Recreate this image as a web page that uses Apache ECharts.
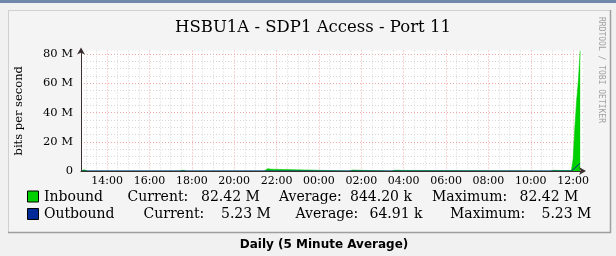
<!DOCTYPE html>
<html><head><meta charset="utf-8">
<script src="https://cdn.jsdelivr.net/npm/echarts@6/dist/echarts.min.js"></script>
<style>html,body{margin:0;padding:0;background:#f1f1f1;}#c{width:616px;height:256px;}</style>
</head><body><div id="c"></div>
<script>
// ---- data (values in Mbit/s) ----
const titleText = 'HSBU1A - SDP1 Access - Port 11';
const axisStart = '12:46';
const axisEnd = '12:28';
const inTimes = ['12:46','12:50','12:55','13:00','13:05','17:25','17:30','17:35','17:40','17:45','21:25','21:30','21:35','21:40','21:45','21:50','01:25','01:30','01:35','01:40','03:25','03:30','03:35','03:40','03:45','03:50','03:55','04:00','10:55','11:00','11:05','11:10','11:15','11:20','11:55','12:00','12:05','12:10','12:15','12:20'];
const inValues = [0.2,0.6,0.8,0.3,0,0,0.3,0.5,0.4,0,0,0.8,1.6,2.2,1.2,0,0,0.3,0.6,0,0,0.4,0.5,0.6,0.5,0.5,0.4,0,0,0.3,0.5,0.5,0.4,0,0.3,8,30,48,62,82.42];
const outTimes = ['12:46','11:55','12:00','12:05','12:10','12:15','12:20'];
const outValues = [0,0,0.8,2.0,3.2,4.3,5.23];
const legendNames = ['Inbound','Outbound'];
const legendColors = ['#00cf00','#002a97'];
const currentVals = ['82.42 M','5.23 M'];
const averageVals = ['844.20 k','64.91 k'];
const maximumVals = ['82.42 M','5.23 M'];
const yMax = 82.42;
const yAxisName = 'bits per second';
const caption = 'Daily (5 Minute Average)';
const sideText = 'RRDTOOL / TOBI OETIKER';

function toH(s){const p=s.split(':').map(Number);let v=p[0]+p[1]/60;if(v<12.7)v+=24;return v;}
function pad(n){return (n<10?'0':'')+n;}

const serif = 'DejaVu Serif';
const chart = echarts.init(document.getElementById('c'), null, {renderer:'canvas'});

const legendGraphics = [];
const rowY = [197, 214.5];
const colX = [
  [44, 127.5, 201, 279, 350, 432, 519.5],
  [44, 143.5, 221, 295.5, 369.5, 450, 541.5]
];
for (let i = 0; i < 2; i++) {
  legendGraphics.push({type:'rect', shape:{x:27.5,y:rowY[i]-6,width:11,height:11}, style:{fill:legendColors[i], stroke:'#000', lineWidth:1}});
  const parts = [legendNames[i], 'Current:', currentVals[i], 'Average:', averageVals[i], 'Maximum:', maximumVals[i]];
  parts.forEach((t, j) => {
    legendGraphics.push({type:'text', x:colX[i][j], y:rowY[i], style:{text:t, font:'14px "'+serif+'"', fill:'#000', verticalAlign:'middle'}});
  });
}

const axisLineStyle = {show:true, onZero:true, lineStyle:{color:'#3a2f2f', width:1}, symbol:['none','arrow'], symbolSize:[6,7], symbolOffset:[0,3]};
const xMin = toH(axisStart), xMax = toH(axisEnd);

chart.setOption({
  animation:false,
  backgroundColor:'#f1f1f1',
  title:{text:titleText, left:308, top:14, textAlign:'center',
    textStyle:{fontFamily:serif, fontSize:16.5, fontWeight:'normal', color:'#000'}},
  grid:{left:81, top:50.5, width:502, height:120.5, show:true, backgroundColor:'#ffffff', borderWidth:0, outerBoundsMode:'none', containLabel:false},
  xAxis:[{type:'value', min:xMin, max:xMax, splitNumber:12,
    axisLine:{show:false},
    axisTick:{show:false},
    axisLabel:{showMinLabel:false, showMaxLabel:false, margin:5, fontFamily:serif, fontSize:11, color:'#000',
      formatter:v=>pad(Math.round(v)%24)+':00'},
    splitLine:{show:true, showMinLine:false, showMaxLine:false, lineStyle:{color:'#f0a8a8', type:[1,2], width:1}},
    minorTick:{show:false, splitNumber:4},
    minorSplitLine:{show:true, lineStyle:{color:'#d6d6d6', type:[1,2], width:1}}
  },{type:'value', min:xMin, max:xMax, position:'bottom', z:10,
    axisLine:axisLineStyle, axisTick:{show:false}, axisLabel:{show:false}, splitLine:{show:false}}],
  yAxis:[{type:'value', min:0, max:yMax, splitNumber:4,
    name:yAxisName, nameLocation:'middle', nameGap:56, nameRotate:90,
    nameTextStyle:{fontFamily:serif, fontSize:11.5, color:'#000'},
    axisLine:{show:false},
    axisTick:{show:false},
    axisLabel:{showMaxLabel:false, margin:8, fontFamily:serif, fontSize:11.5, color:'#000',
      formatter:v=>v===0?'0':v+' M'},
    splitLine:{show:true, showMinLine:false, showMaxLine:false, lineStyle:{color:'#f0a8a8', type:[1,2], width:1}},
    minorTick:{show:false, splitNumber:4},
    minorSplitLine:{show:true, lineStyle:{color:'#d6d6d6', type:[1,2], width:1}}
  },{type:'value', min:0, max:yMax, position:'left', z:10,
    axisLine:axisLineStyle, axisTick:{show:false}, axisLabel:{show:false}, splitLine:{show:false}}],
  series:[
    {type:'line', name:legendNames[0], data:inTimes.map((t,i)=>[toH(t), inValues[i]]),
      showSymbol:false, symbol:'none', lineStyle:{width:0.6, color:legendColors[0]},
      areaStyle:{color:legendColors[0], opacity:1}, z:3},
    {type:'line', name:legendNames[1], data:outTimes.map((t,i)=>[toH(t), outValues[i]]),
      showSymbol:false, symbol:'none', lineStyle:{width:1, color:legendColors[1]}, z:4}
  ],
  graphic:[
    {type:'rect', z:-5, shape:{x:0,y:0,width:616,height:3}, style:{fill:'#6f88aa'}},
    {type:'rect', z:-5, shape:{x:8,y:10,width:603,height:223}, style:{fill:'#f4f4f4', stroke:null}},
    {type:'line', z:-4, shape:{x1:8,y1:10.5,x2:611,y2:10.5}, style:{stroke:'#d0d0d0', lineWidth:1}},
    {type:'line', z:-4, shape:{x1:8.5,y1:10,x2:8.5,y2:233}, style:{stroke:'#d0d0d0', lineWidth:1}},
    {type:'line', z:-4, shape:{x1:8,y1:232.5,x2:611,y2:232.5}, style:{stroke:'#9e9e9e', lineWidth:1.5}},
    {type:'line', z:-4, shape:{x1:610.5,y1:10,x2:610.5,y2:233}, style:{stroke:'#9e9e9e', lineWidth:1.5}},
    {type:'text', x:601.5, y:70, rotation:-Math.PI/2, style:{text:sideText, font:'8px "DejaVu Sans Mono"', fill:'#a0a0a0', align:'center', verticalAlign:'middle'}},
    {type:'text', x:324, y:245, style:{text:caption, font:'bold 12px "DejaVu Sans"', fill:'#000', align:'center', verticalAlign:'middle'}}
  ].concat(legendGraphics)
});
</script>
</body></html>
